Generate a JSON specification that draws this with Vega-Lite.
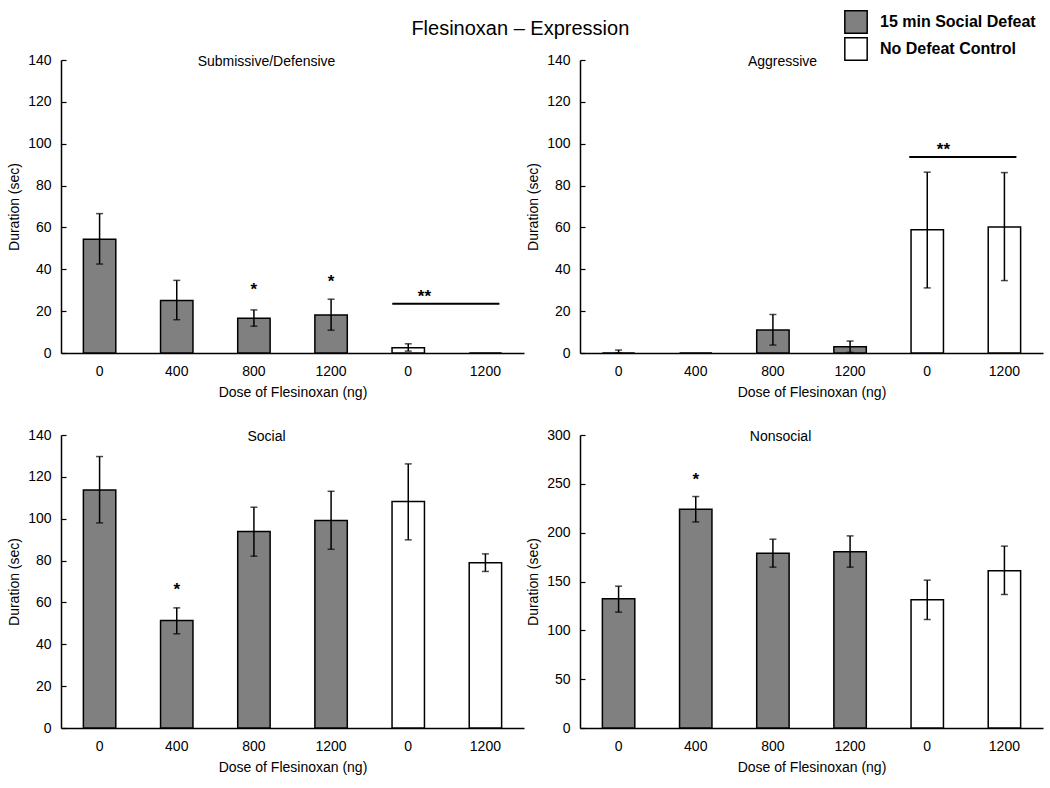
{
  "$schema": "https://vega.github.io/schema/vega-lite/v6.json",
  "background": "white",
  "padding": {"left": 7, "top": 10, "right": 4, "bottom": 4},
  "title": {"text": "Flesinoxan – Expression", "fontSize": 20, "fontWeight": "normal", "font": "Liberation Sans", "color": "black", "anchor": "middle", "baseline": "alphabetic", "offset": -45, "dx": -5},
  "datasets": {
    "bars": [
      {"panel": "sub", "cat": "D0", "group": "15 min Social Defeat", "mean": 54.4, "lo": 42.5, "hi": 66.6},
      {"panel": "sub", "cat": "D400", "group": "15 min Social Defeat", "mean": 25.1, "lo": 15.9, "hi": 34.7},
      {"panel": "sub", "cat": "D800", "group": "15 min Social Defeat", "mean": 16.6, "lo": 12.8, "hi": 20.6},
      {"panel": "sub", "cat": "D1200", "group": "15 min Social Defeat", "mean": 18.2, "lo": 10.9, "hi": 25.7},
      {"panel": "sub", "cat": "C0", "group": "No Defeat Control", "mean": 2.5, "lo": 0.9, "hi": 4.4},
      {"panel": "sub", "cat": "C1200", "group": "No Defeat Control", "mean": 0, "lo": null, "hi": null},
      {"panel": "agg", "cat": "D0", "group": "15 min Social Defeat", "mean": 0, "lo": 0, "hi": 1.4},
      {"panel": "agg", "cat": "D400", "group": "15 min Social Defeat", "mean": 0, "lo": null, "hi": null},
      {"panel": "agg", "cat": "D800", "group": "15 min Social Defeat", "mean": 11.0, "lo": 3.8, "hi": 18.4},
      {"panel": "agg", "cat": "D1200", "group": "15 min Social Defeat", "mean": 3.0, "lo": 0.3, "hi": 5.7},
      {"panel": "agg", "cat": "C0", "group": "No Defeat Control", "mean": 58.9, "lo": 31.1, "hi": 86.4},
      {"panel": "agg", "cat": "C1200", "group": "No Defeat Control", "mean": 60.2, "lo": 34.6, "hi": 86.2},
      {"panel": "soc", "cat": "D0", "group": "15 min Social Defeat", "mean": 113.7, "lo": 98.0, "hi": 129.7},
      {"panel": "soc", "cat": "D400", "group": "15 min Social Defeat", "mean": 51.4, "lo": 45.0, "hi": 57.4},
      {"panel": "soc", "cat": "D800", "group": "15 min Social Defeat", "mean": 93.9, "lo": 82.1, "hi": 105.5},
      {"panel": "soc", "cat": "D1200", "group": "15 min Social Defeat", "mean": 99.1, "lo": 85.4, "hi": 113.1},
      {"panel": "soc", "cat": "C0", "group": "No Defeat Control", "mean": 108.2, "lo": 89.9, "hi": 126.2},
      {"panel": "soc", "cat": "C1200", "group": "No Defeat Control", "mean": 78.9, "lo": 74.8, "hi": 83.2},
      {"panel": "non", "cat": "D0", "group": "15 min Social Defeat", "mean": 132.3, "lo": 118.6, "hi": 145.2},
      {"panel": "non", "cat": "D400", "group": "15 min Social Defeat", "mean": 224.0, "lo": 211.0, "hi": 237.0},
      {"panel": "non", "cat": "D800", "group": "15 min Social Defeat", "mean": 179.0, "lo": 164.7, "hi": 193.3},
      {"panel": "non", "cat": "D1200", "group": "15 min Social Defeat", "mean": 180.4, "lo": 164.7, "hi": 196.7},
      {"panel": "non", "cat": "C0", "group": "No Defeat Control", "mean": 131.3, "lo": 111.1, "hi": 151.4},
      {"panel": "non", "cat": "C1200", "group": "No Defeat Control", "mean": 160.9, "lo": 136.7, "hi": 186.2}
    ],
    "stars": [
      {"panel": "sub", "cat": "D800", "y": 30.0, "text": "*"},
      {"panel": "sub", "cat": "D1200", "y": 33.8, "text": "*"},
      {"panel": "sub", "cat": "C0", "y": 26.7, "text": "**"},
      {"panel": "agg", "cat": "C0", "y": 96.8, "text": "**"},
      {"panel": "soc", "cat": "D400", "y": 65.9, "text": "*"},
      {"panel": "non", "cat": "D400", "y": 253.8, "text": "*"}
    ],
    "lines": [
      {"panel": "sub", "c1": "C0", "c2": "C1200", "y": 23.5},
      {"panel": "agg", "c1": "C0", "c2": "C1200", "y": 93.6}
    ]
  },
  "columns": 2,
  "spacing": {"row": 29, "column": 2},
  "concat": [
    {
      "width": 463, "height": 293,
      "title": {"text": "Submissive/Defensive", "frame": "group", "offset": -27, "baseline": "alphabetic", "dx": -26},
      "layer": [
        {"data": {"name": "bars"}, "transform": [{"filter": "datum.panel == 'sub'"}],
         "mark": {"type": "bar", "stroke": "black", "strokeWidth": 1.5},
         "encoding": {
           "x": {"field": "cat", "type": "nominal", "title": "Dose of Flesinoxan (ng)", "scale": {"domain": ["D0","D400","D800","D1200","C0","C1200"], "paddingInner": 0.58, "paddingOuter": 0.29}},
           "y": {"field": "mean", "type": "quantitative", "title": "Duration (sec)", "scale": {"domain": [0, 140], "nice": false}, "axis": {"values": [0,10,20,30,40,50,60,70,80,90,100,110,120,130,140], "labelExpr": "datum.value % 20 == 0 ? datum.label : ''"}},
           "color": {"field": "group", "type": "nominal", "scale": {"domain": ["15 min Social Defeat", "No Defeat Control"], "range": ["#808080", "#ffffff"]}, "legend": {"title": null}}
         }},
        {"data": {"name": "bars"}, "transform": [{"filter": "datum.panel == 'sub'"}],
         "mark": {"type": "rule", "color": "black", "strokeWidth": 1.5},
         "encoding": {"x": {"field": "cat", "type": "nominal", "title": "Dose of Flesinoxan (ng)"}, "y": {"field": "lo", "type": "quantitative", "title": "Duration (sec)"}, "y2": {"field": "hi"}}},
        {"data": {"name": "bars"}, "transform": [{"filter": "datum.panel == 'sub'"}],
         "mark": {"type": "tick", "color": "black", "size": 7, "thickness": 1.5, "orient": "horizontal"},
         "encoding": {"x": {"field": "cat", "type": "nominal", "title": "Dose of Flesinoxan (ng)"}, "y": {"field": "lo", "type": "quantitative", "title": "Duration (sec)"}}},
        {"data": {"name": "bars"}, "transform": [{"filter": "datum.panel == 'sub'"}],
         "mark": {"type": "tick", "color": "black", "size": 7, "thickness": 1.5, "orient": "horizontal"},
         "encoding": {"x": {"field": "cat", "type": "nominal", "title": "Dose of Flesinoxan (ng)"}, "y": {"field": "hi", "type": "quantitative", "title": "Duration (sec)"}}},
        {"data": {"name": "lines"}, "transform": [{"filter": "datum.panel == 'sub'"}],
         "mark": {"type": "rule", "color": "black", "strokeWidth": 2, "xOffset": -16, "x2Offset": 14},
         "encoding": {"x": {"field": "c1", "type": "nominal", "title": "Dose of Flesinoxan (ng)"}, "x2": {"field": "c2"}, "y": {"field": "y", "type": "quantitative", "title": "Duration (sec)"}}},
        {"data": {"name": "stars"}, "transform": [{"filter": "datum.panel == 'sub' && datum.text == '*'"}],
         "mark": {"type": "text", "fontSize": 17, "fontWeight": "bold", "baseline": "middle", "align": "center", "color": "black"},
         "encoding": {"x": {"field": "cat", "type": "nominal", "title": "Dose of Flesinoxan (ng)"}, "y": {"field": "y", "type": "quantitative", "title": "Duration (sec)"}, "text": {"field": "text"}}},
        {"data": {"name": "stars"}, "transform": [{"filter": "datum.panel == 'sub' && datum.text == '**'"}],
         "mark": {"type": "text", "fontSize": 17, "fontWeight": "bold", "baseline": "middle", "align": "center", "color": "black"},
         "encoding": {"x": {"field": "cat", "type": "nominal", "title": "Dose of Flesinoxan (ng)", "bandPosition": 1}, "y": {"field": "y", "type": "quantitative", "title": "Duration (sec)"}, "text": {"field": "text"}}}
      ]
    },
    {
      "width": 463, "height": 293,
      "title": {"text": "Aggressive", "frame": "group", "offset": -27, "baseline": "alphabetic", "dx": -29},
      "layer": [
        {"data": {"name": "bars"}, "transform": [{"filter": "datum.panel == 'agg'"}],
         "mark": {"type": "bar", "stroke": "black", "strokeWidth": 1.5},
         "encoding": {
           "x": {"field": "cat", "type": "nominal", "title": "Dose of Flesinoxan (ng)", "scale": {"domain": ["D0","D400","D800","D1200","C0","C1200"], "paddingInner": 0.58, "paddingOuter": 0.29}},
           "y": {"field": "mean", "type": "quantitative", "title": "Duration (sec)", "scale": {"domain": [0, 140], "nice": false}, "axis": {"values": [0,10,20,30,40,50,60,70,80,90,100,110,120,130,140], "labelExpr": "datum.value % 20 == 0 ? datum.label : ''"}},
           "color": {"field": "group", "type": "nominal", "scale": {"domain": ["15 min Social Defeat", "No Defeat Control"], "range": ["#808080", "#ffffff"]}, "legend": {"title": null}}
         }},
        {"data": {"name": "bars"}, "transform": [{"filter": "datum.panel == 'agg'"}],
         "mark": {"type": "rule", "color": "black", "strokeWidth": 1.5},
         "encoding": {"x": {"field": "cat", "type": "nominal", "title": "Dose of Flesinoxan (ng)"}, "y": {"field": "lo", "type": "quantitative", "title": "Duration (sec)"}, "y2": {"field": "hi"}}},
        {"data": {"name": "bars"}, "transform": [{"filter": "datum.panel == 'agg'"}],
         "mark": {"type": "tick", "color": "black", "size": 7, "thickness": 1.5, "orient": "horizontal"},
         "encoding": {"x": {"field": "cat", "type": "nominal", "title": "Dose of Flesinoxan (ng)"}, "y": {"field": "lo", "type": "quantitative", "title": "Duration (sec)"}}},
        {"data": {"name": "bars"}, "transform": [{"filter": "datum.panel == 'agg'"}],
         "mark": {"type": "tick", "color": "black", "size": 7, "thickness": 1.5, "orient": "horizontal"},
         "encoding": {"x": {"field": "cat", "type": "nominal", "title": "Dose of Flesinoxan (ng)"}, "y": {"field": "hi", "type": "quantitative", "title": "Duration (sec)"}}},
        {"data": {"name": "lines"}, "transform": [{"filter": "datum.panel == 'agg'"}],
         "mark": {"type": "rule", "color": "black", "strokeWidth": 2, "xOffset": -18, "x2Offset": 12},
         "encoding": {"x": {"field": "c1", "type": "nominal", "title": "Dose of Flesinoxan (ng)"}, "x2": {"field": "c2"}, "y": {"field": "y", "type": "quantitative", "title": "Duration (sec)"}}},
        {"data": {"name": "stars"}, "transform": [{"filter": "datum.panel == 'agg' && datum.text == '**'"}],
         "mark": {"type": "text", "fontSize": 17, "fontWeight": "bold", "baseline": "middle", "align": "center", "color": "black"},
         "encoding": {"x": {"field": "cat", "type": "nominal", "title": "Dose of Flesinoxan (ng)", "bandPosition": 1}, "y": {"field": "y", "type": "quantitative", "title": "Duration (sec)"}, "text": {"field": "text"}}}
      ]
    },
    {
      "width": 463, "height": 293,
      "title": {"text": "Social", "frame": "group", "offset": -27, "baseline": "alphabetic", "dx": -26},
      "layer": [
        {"data": {"name": "bars"}, "transform": [{"filter": "datum.panel == 'soc'"}],
         "mark": {"type": "bar", "stroke": "black", "strokeWidth": 1.5},
         "encoding": {
           "x": {"field": "cat", "type": "nominal", "title": "Dose of Flesinoxan (ng)", "scale": {"domain": ["D0","D400","D800","D1200","C0","C1200"], "paddingInner": 0.58, "paddingOuter": 0.29}},
           "y": {"field": "mean", "type": "quantitative", "title": "Duration (sec)", "scale": {"domain": [0, 140], "nice": false}, "axis": {"values": [0,10,20,30,40,50,60,70,80,90,100,110,120,130,140], "labelExpr": "datum.value % 20 == 0 ? datum.label : ''"}},
           "color": {"field": "group", "type": "nominal", "scale": {"domain": ["15 min Social Defeat", "No Defeat Control"], "range": ["#808080", "#ffffff"]}, "legend": {"title": null}}
         }},
        {"data": {"name": "bars"}, "transform": [{"filter": "datum.panel == 'soc'"}],
         "mark": {"type": "rule", "color": "black", "strokeWidth": 1.5},
         "encoding": {"x": {"field": "cat", "type": "nominal", "title": "Dose of Flesinoxan (ng)"}, "y": {"field": "lo", "type": "quantitative", "title": "Duration (sec)"}, "y2": {"field": "hi"}}},
        {"data": {"name": "bars"}, "transform": [{"filter": "datum.panel == 'soc'"}],
         "mark": {"type": "tick", "color": "black", "size": 7, "thickness": 1.5, "orient": "horizontal"},
         "encoding": {"x": {"field": "cat", "type": "nominal", "title": "Dose of Flesinoxan (ng)"}, "y": {"field": "lo", "type": "quantitative", "title": "Duration (sec)"}}},
        {"data": {"name": "bars"}, "transform": [{"filter": "datum.panel == 'soc'"}],
         "mark": {"type": "tick", "color": "black", "size": 7, "thickness": 1.5, "orient": "horizontal"},
         "encoding": {"x": {"field": "cat", "type": "nominal", "title": "Dose of Flesinoxan (ng)"}, "y": {"field": "hi", "type": "quantitative", "title": "Duration (sec)"}}},
        {"data": {"name": "stars"}, "transform": [{"filter": "datum.panel == 'soc'"}],
         "mark": {"type": "text", "fontSize": 17, "fontWeight": "bold", "baseline": "middle", "align": "center", "color": "black"},
         "encoding": {"x": {"field": "cat", "type": "nominal", "title": "Dose of Flesinoxan (ng)"}, "y": {"field": "y", "type": "quantitative", "title": "Duration (sec)"}, "text": {"field": "text"}}}
      ]
    },
    {
      "width": 463, "height": 293,
      "title": {"text": "Nonsocial", "frame": "group", "offset": -27, "baseline": "alphabetic", "dx": -31},
      "layer": [
        {"data": {"name": "bars"}, "transform": [{"filter": "datum.panel == 'non'"}],
         "mark": {"type": "bar", "stroke": "black", "strokeWidth": 1.5},
         "encoding": {
           "x": {"field": "cat", "type": "nominal", "title": "Dose of Flesinoxan (ng)", "scale": {"domain": ["D0","D400","D800","D1200","C0","C1200"], "paddingInner": 0.58, "paddingOuter": 0.29}},
           "y": {"field": "mean", "type": "quantitative", "title": "Duration (sec)", "scale": {"domain": [0, 300], "nice": false}, "axis": {"values": [0,25,50,75,100,125,150,175,200,225,250,275,300], "labelExpr": "datum.value % 50 == 0 ? datum.label : ''"}},
           "color": {"field": "group", "type": "nominal", "scale": {"domain": ["15 min Social Defeat", "No Defeat Control"], "range": ["#808080", "#ffffff"]}, "legend": {"title": null}}
         }},
        {"data": {"name": "bars"}, "transform": [{"filter": "datum.panel == 'non'"}],
         "mark": {"type": "rule", "color": "black", "strokeWidth": 1.5},
         "encoding": {"x": {"field": "cat", "type": "nominal", "title": "Dose of Flesinoxan (ng)"}, "y": {"field": "lo", "type": "quantitative", "title": "Duration (sec)"}, "y2": {"field": "hi"}}},
        {"data": {"name": "bars"}, "transform": [{"filter": "datum.panel == 'non'"}],
         "mark": {"type": "tick", "color": "black", "size": 7, "thickness": 1.5, "orient": "horizontal"},
         "encoding": {"x": {"field": "cat", "type": "nominal", "title": "Dose of Flesinoxan (ng)"}, "y": {"field": "lo", "type": "quantitative", "title": "Duration (sec)"}}},
        {"data": {"name": "bars"}, "transform": [{"filter": "datum.panel == 'non'"}],
         "mark": {"type": "tick", "color": "black", "size": 7, "thickness": 1.5, "orient": "horizontal"},
         "encoding": {"x": {"field": "cat", "type": "nominal", "title": "Dose of Flesinoxan (ng)"}, "y": {"field": "hi", "type": "quantitative", "title": "Duration (sec)"}}},
        {"data": {"name": "stars"}, "transform": [{"filter": "datum.panel == 'non'"}],
         "mark": {"type": "text", "fontSize": 17, "fontWeight": "bold", "baseline": "middle", "align": "center", "color": "black"},
         "encoding": {"x": {"field": "cat", "type": "nominal", "title": "Dose of Flesinoxan (ng)"}, "y": {"field": "y", "type": "quantitative", "title": "Duration (sec)"}, "text": {"field": "text"}}}
      ]
    }
  ],
  "resolve": {"scale": {"color": "shared"}},
  "config": {
    "font": "Liberation Sans",
    "view": {"stroke": null},
    "title": {"font": "Liberation Sans", "fontSize": 14, "fontWeight": "normal", "color": "black", "anchor": "middle"},
    "axis": {"labelFont": "Liberation Sans", "labelFontSize": 14, "labelColor": "black", "titleFont": "Liberation Sans", "titleFontSize": 14, "titleFontWeight": "normal", "titleColor": "black", "domainColor": "black", "domainWidth": 1.5, "tickColor": "black", "grid": false},
    "axisX": {"ticks": false, "labelAngle": 0, "labelPadding": 11, "titlePadding": 7, "labelExpr": "substring(datum.label, 1)"},
    "axisY": {"tickSize": -5, "tickWidth": 1.2, "labelPadding": 15, "titlePadding": 6},
    "legend": {"orient": "none", "legendX": 783, "legendY": -50, "symbolType": "square", "symbolSize": 500, "symbolStrokeColor": "black", "symbolStrokeWidth": 1.5, "labelFont": "Liberation Sans", "labelFontSize": 16, "labelFontWeight": "bold", "labelColor": "black", "labelOffset": 12, "rowPadding": -4}
  }
}
